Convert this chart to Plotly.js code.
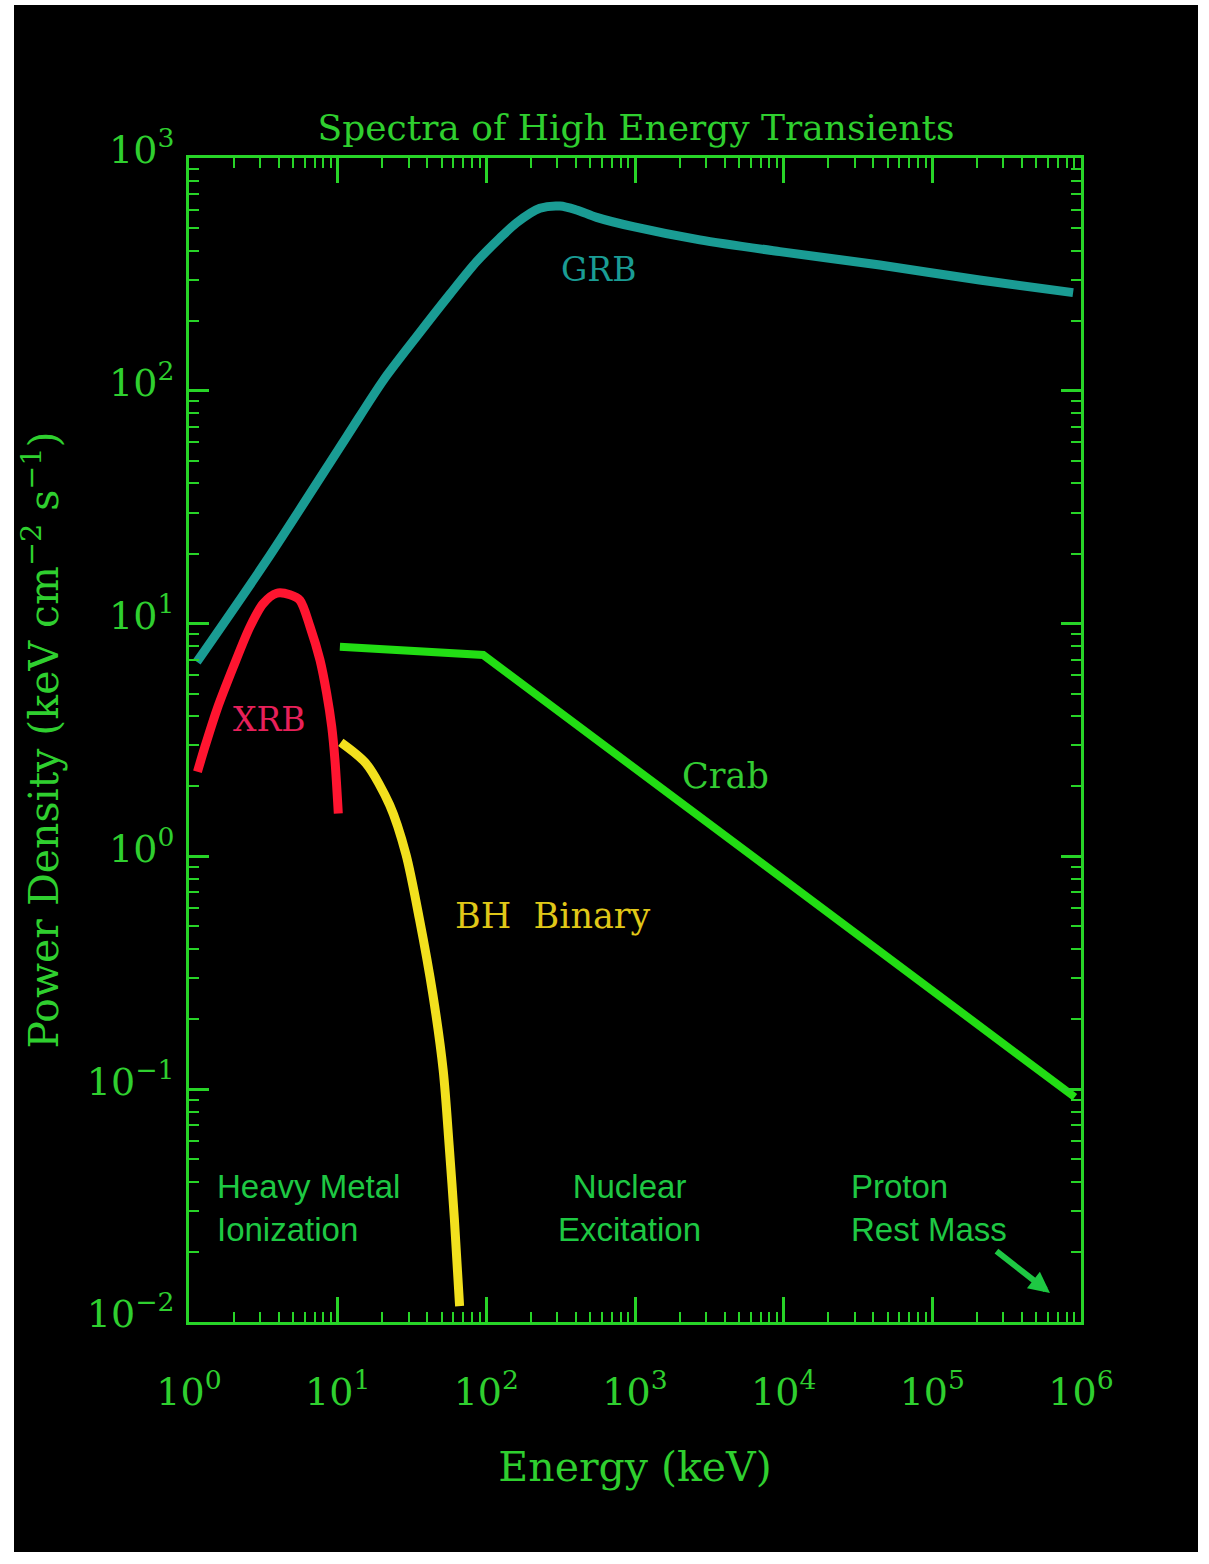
<!DOCTYPE html>
<html>
<head>
<meta charset="utf-8">
<script src="https://cdn.plot.ly/plotly-3.0.1.min.js"></script>
<style>
  html, body { margin: 0; padding: 0; background: #ffffff; }
  #chart { position: absolute; left: 14px; top: 5px; width: 1184px; height: 1547px; }
</style>
</head>
<body>
<div id="chart"></div>
<script>
// Energy (keV) and power density (keV cm^-2 s^-1) for each source
const grbEnergy = [1.13, 3.33, 11.5, 20.3, 34.0, 56.9, 86.1, 123, 160, 229, 313, 405, 552, 973, 2730, 9420, 44400, 208000, 885000];
const grbPower  = [6.85, 18.7, 63.5, 111, 171, 260, 359, 452, 527, 608, 622, 598, 556, 507, 445, 396, 347, 299, 264];

const xrbEnergy = [1.14, 1.28, 1.54, 1.99, 2.57, 3.16, 3.89, 4.78, 5.57, 6.52, 7.60, 8.43, 9.12, 9.59, 10.1];
const xrbPower  = [2.31, 2.96, 4.27, 6.53, 9.68, 12.2, 13.5, 13.3, 12.6, 9.7, 6.98, 5.02, 3.61, 2.59, 1.53];

const crabEnergy = [10.35, 27.6, 95.3, 908000];
const crabPower  = [7.96, 7.71, 7.33, 0.0925];

const bhEnergy = [10.5, 15.5, 22.4, 28.8, 35.5, 43.6, 51.3, 56.2, 61.0, 66.1];
const bhPower  = [3.09, 2.51, 1.66, 1.02, 0.537, 0.257, 0.120, 0.0575, 0.0275, 0.0117];

// Axis decades and their labels
const xTickVals = [1, 10, 100, 1000, 10000, 100000, 1000000];
const xTickText = ['10<sup>0</sup>', '10<sup>1</sup>', '10<sup>2</sup>', '10<sup>3</sup>', '10<sup>4</sup>', '10<sup>5</sup>', '10<sup>6</sup>'];
const yTickVals = [0.01, 0.1, 1, 10, 100, 1000];
const yTickText = ['10<sup>\u22122</sup>', '10<sup>\u22121</sup>', '10<sup>0</sup>', '10<sup>1</sup>', '10<sup>2</sup>', '10<sup>3</sup>'];

const AXIS_GREEN = '#27d427';
const TEXT_GREEN = '#2fcf2f';
const SANS_GREEN = '#1ec843';
const SERIF = '"DejaVu Serif", "Liberation Serif", serif';
const SANS = '"Liberation Sans", Arial, sans-serif';

function curve(x, y, color) {
  return {
    x: x, y: y, type: 'scatter', mode: 'lines',
    line: { color: color, width: 9, shape: 'spline', smoothing: 0.8 },
    hoverinfo: 'skip', showlegend: false
  };
}

const data = [
  curve(grbEnergy, grbPower, '#1a9c94'),
  curve(xrbEnergy, xrbPower, '#ff1530'),
  { x: crabEnergy, y: crabPower, type: 'scatter', mode: 'lines',
    line: { color: '#22dd14', width: 8 }, hoverinfo: 'skip', showlegend: false },
  curve(bhEnergy, bhPower, '#f2e01e')
];

function axisCommon() {
  return {
    type: 'log',
    showgrid: false, zeroline: false,
    showline: true, linecolor: AXIS_GREEN, linewidth: 3,
    mirror: 'ticks',
    ticks: 'inside', tickcolor: AXIS_GREEN, tickwidth: 3,
    tickmode: 'array',
    tickfont: { family: SERIF, size: 38, color: TEXT_GREEN },
    minor: { ticks: 'inside', dtick: 'D1', ticklen: 10, tickwidth: 2, tickcolor: AXIS_GREEN, showgrid: false }
  };
}

const xaxis = Object.assign(axisCommon(), {
  range: [0, 6],
  tickvals: xTickVals, ticktext: xTickText,
  ticklen: 25,
  ticklabelstandoff: 34,
  title: { text: 'Energy (keV)', font: { family: SERIF, size: 41, color: TEXT_GREEN }, standoff: 40 }
});

const yaxis = Object.assign(axisCommon(), {
  range: [-2, 3],
  tickvals: yTickVals, ticktext: yTickText,
  ticklen: 20,
  ticklabelstandoff: 4,
  ticklabelshift: -8,
  title: { text: 'Power Density (keV cm<sup>\u22122</sup> s<sup>\u22121</sup>)', font: { family: SERIF, size: 41, color: TEXT_GREEN }, standoff: 22 }
});

function label(text, xp, yp, color, font, size, anchor, align) {
  return {
    text: text, xref: 'paper', yref: 'paper', x: xp, y: yp,
    xanchor: anchor || 'center', yanchor: 'middle', align: align || 'center',
    showarrow: false, font: { family: font, size: size, color: color }
  };
}

const annotations = [
  label('GRB', 0.4596, 0.9038, '#1a9c94', SERIF, 33),
  label('XRB', 0.0908, 0.5172, '#e8205a', SERIF, 33),
  label('Crab', 0.6009, 0.4690, '#33cc33', SERIF, 35),
  label('BH  Binary', 0.4080, 0.3488, '#e0c818', SERIF, 35),
  label('Heavy Metal<br>Ionization', 0.0291, 0.0979, SANS_GREEN, SANS, 33, 'left', 'left'),
  label('Nuclear<br>Excitation', 0.4933, 0.0979, SANS_GREEN, SANS, 33, 'center', 'center'),
  label('Proton<br>Rest Mass', 0.7400, 0.0979, SANS_GREEN, SANS, 33, 'left', 'left'),
  {
    text: '', xref: 'paper', yref: 'paper', x: 0.9652, y: 0.0249,
    showarrow: true, ax: -55, ay: -43,
    arrowcolor: SANS_GREEN, arrowwidth: 6, arrowhead: 2, arrowsize: 0.7
  }
];

const layout = {
  width: 1184, height: 1547,
  margin: { l: 175, r: 117, t: 153, b: 230 },
  paper_bgcolor: '#000000', plot_bgcolor: '#000000',
  title: {
    text: 'Spectra of High Energy Transients',
    font: { family: SERIF, size: 36, color: TEXT_GREEN },
    xref: 'container', yref: 'container', x: 0.5253, y: 0.9211,
    xanchor: 'center', yanchor: 'middle'
  },
  xaxis: xaxis,
  yaxis: yaxis,
  annotations: annotations,
  showlegend: false
};

Plotly.newPlot('chart', data, layout, { staticPlot: true, displayModeBar: false });
</script>
</body>
</html>
